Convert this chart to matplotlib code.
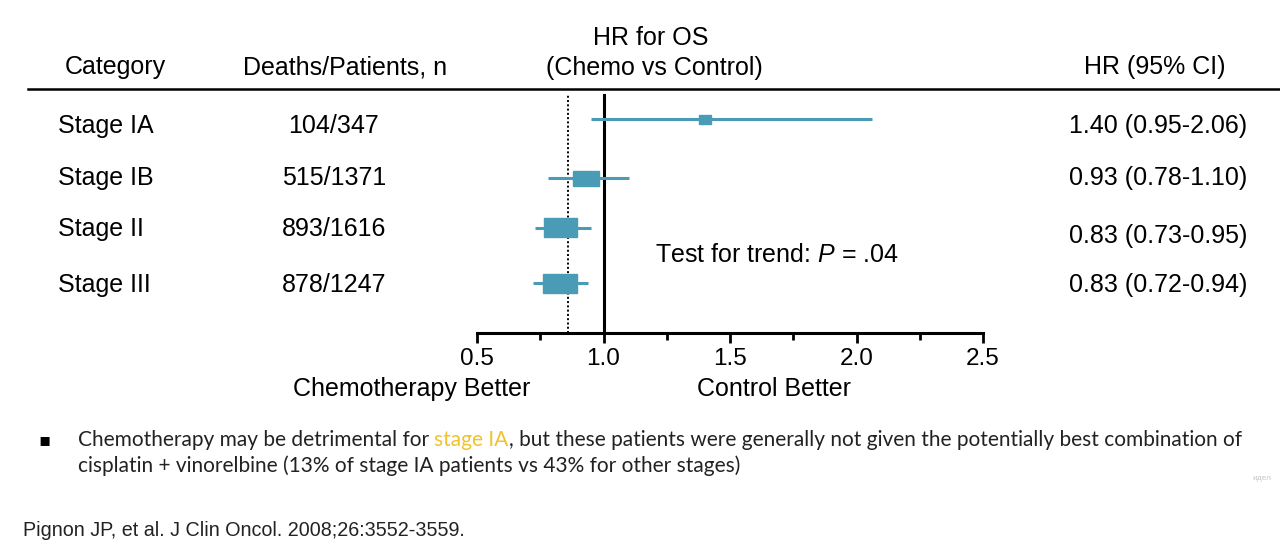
import matplotlib
matplotlib.use("Agg")
import matplotlib.pyplot as plt
from matplotlib.patches import Rectangle
from matplotlib.lines import Line2D
from matplotlib import transforms

# data
categories = ["Stage IA", "Stage IB", "Stage II", "Stage III"]
deaths_patients = ["104/347", "515/1371", "893/1616", "878/1247"]
hr = [1.40, 0.93, 0.83, 0.83]
ci_low = [0.95, 0.78, 0.73, 0.72]
ci_high = [2.06, 1.10, 0.95, 0.94]
overall_hr = 0.86
x_ticks = [0.5, 1.0, 1.5, 2.0, 2.5]

# layout / style per row
row_y = [0.0, 1.08, 1.99, 3.0]        # marker rows (row units)
text_dy = [0.13, 0.0, 0.02, 0.04]     # text offset from marker row
hr_text_dy = [0.0, 0.0, 0.13, 0.0]    # extra offset for the HR column
box_w_px = [12, 26, 33, 34]
box_h_px = [9, 15, 19, 19]

TEAL = "#4a9bb6"
GOLD = "#f2c12e"
W, H = 1280, 552

plt.rcParams["font.family"] = ["Liberation Sans", "DejaVu Sans"]
plt.rcParams["mathtext.fontset"] = "custom"
plt.rcParams["mathtext.it"] = "Liberation Sans:italic"
plt.rcParams["mathtext.rm"] = "Liberation Sans"


def fx(x):
    return x / W


def fy(y):
    return 1 - y / H


fig = plt.figure(figsize=(12.8, 5.52), dpi=100)
fig.patch.set_facecolor("white")

# forest plot axes: 0.5 at x=477px, 2.5 at x=983px, top 89px, axis at 333px
ax = fig.add_axes([fx(477), fy(333), (983 - 477) / W, (333 - 89) / H])
ax.set_xlim(0.5, 2.5)
ax.set_ylim(3.91, -0.55)
px_per_x = (983 - 477) / 2.0
px_per_y = (333 - 89) / (3.91 + 0.55)

ax.axvline(1.0, ymax=0.975, color="black", lw=2.2, zorder=1)
ax.axvline(overall_hr, ymax=0.975, color="black", lw=1.4, ls=(0, (1, 1.2)), zorder=1)

for i, y in enumerate(row_y):
    ax.plot([ci_low[i], ci_high[i]], [y, y], color=TEAL, lw=2.2, solid_capstyle="butt", zorder=2)
    bw = box_w_px[i] / px_per_x
    bh = box_h_px[i] / px_per_y
    ax.add_patch(Rectangle((hr[i] - bw / 2, y - bh / 2), bw, bh, color=TEAL, zorder=3))

for s in ["top", "right", "left"]:
    ax.spines[s].set_visible(False)
ax.spines["bottom"].set_linewidth(2.2)
ax.set_yticks([])
ax.set_xticks(x_ticks)
ax.set_xticklabels([f"{t:.1f}" for t in x_ticks])
ax.set_xticks([0.75, 1.25, 1.75, 2.25], minor=True)
ax.tick_params(axis="x", which="major", length=7, width=2, pad=4, labelsize=17.5, colors="black")
ax.tick_params(axis="x", which="minor", length=5, width=2)
ax.patch.set_alpha(0)

fs = 18
ax.text(1.205, 2.48, r"Test for trend: $\mathit{P}$ = .04", fontsize=fs, va="center", ha="left")

# header
fig.text(fx(115), fy(67), "Category", ha="center", va="center", fontsize=fs)
fig.text(fx(345), fy(67), "Deaths/Patients, n", ha="center", va="center", fontsize=fs)
fig.text(fx(651), fy(38), "HR for OS", ha="center", va="center", fontsize=fs)
fig.text(fx(654), fy(68), "(Chemo vs Control)", ha="center", va="center", fontsize=fs)
fig.text(fx(1155), fy(67), "HR (95% CI)", ha="center", va="center", fontsize=fs)
fig.add_artist(Line2D([fx(28), fx(1280)], [fy(89), fy(89)], color="black", lw=1.8))

# row texts, x in figure coords, y in data coords
tr = transforms.blended_transform_factory(fig.transFigure, ax.transData)
for i, y in enumerate(row_y):
    ty = y + text_dy[i]
    fig.text(fx(58), ty, categories[i], transform=tr, ha="left", va="center", fontsize=fs)
    fig.text(fx(334), ty, deaths_patients[i], transform=tr, ha="center", va="center", fontsize=fs)
    label = f"{hr[i]:.2f} ({ci_low[i]:.2f}-{ci_high[i]:.2f})"
    fig.text(fx(1247), ty + hr_text_dy[i], label, transform=tr, ha="right", va="center", fontsize=fs)

fig.text(fx(412), fy(389), "Chemotherapy Better", ha="center", va="center", fontsize=fs)
fig.text(fx(774), fy(389), "Control Better", ha="center", va="center", fontsize=fs)

# bullet note with coloured words
renderer = fig.canvas.get_renderer()
note_fs = 15
fig.text(fx(44), fy(440), "\u25aa", ha="center", va="center", fontsize=13, family="DejaVu Sans")
pieces = [("Chemotherapy may be detrimental for ", "#222222"),
          ("stage IA", GOLD),
          (", but these patients were generally not given the potentially best combination of", "#222222")]
x = fx(78)
for txt, col in pieces:
    t = fig.text(x, fy(440), txt, ha="left", va="center", fontsize=note_fs, color=col, family="Lato")
    bb = t.get_window_extent(renderer)
    x += bb.width / W
fig.text(fx(78), fy(466), "cisplatin + vinorelbine (13% of stage IA patients vs 43% for other stages)",
         ha="left", va="center", fontsize=note_fs, color="#222222", family="Lato")

fig.text(fx(1262), fy(478), "\u0438\u0434\u0435\u043b", ha="center", va="center", fontsize=6, color="#c8c8c8")
fig.text(fx(23), fy(530), "Pignon JP, et al. J Clin Oncol. 2008;26:3552-3559.", ha="left", va="center",
         fontsize=14.2, color="#222222")

fig.savefig("out.png", dpi=100, facecolor="white")
